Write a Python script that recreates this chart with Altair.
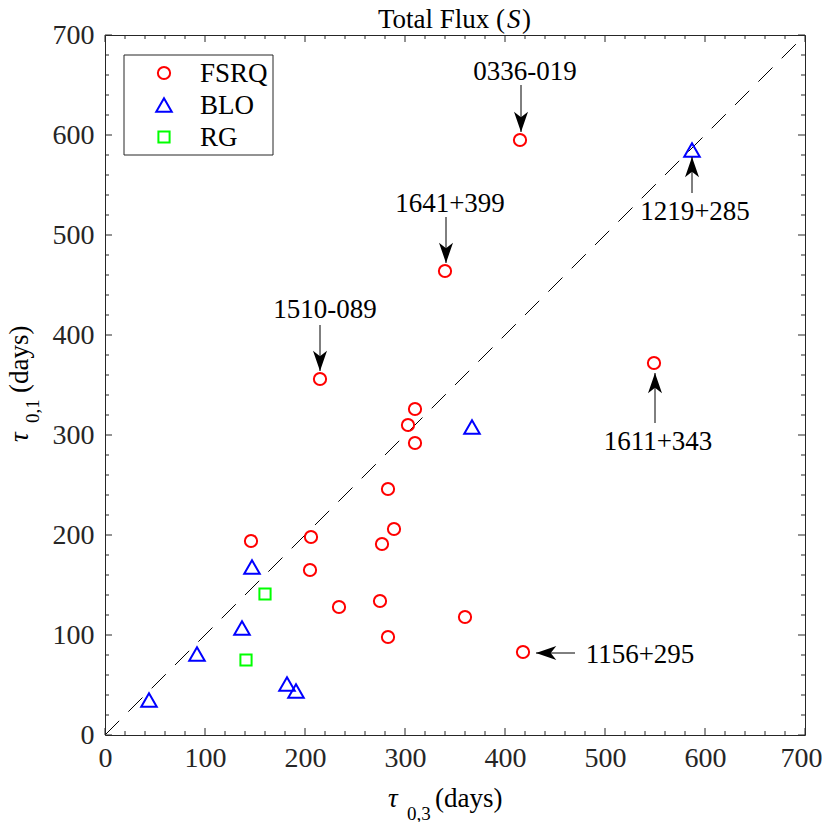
import altair as alt
import pandas as pd

FONT = "Liberation Serif"
INK = "#262626"

# ---- data ----
fsrq_x = [415, 340, 215, 549, 310, 303, 310, 283, 289, 277, 206, 146, 205, 234, 275, 283, 360, 418]
fsrq_y = [595, 464, 356, 372, 326, 310, 292, 246, 206, 191, 198, 194, 165, 128, 134, 98, 118, 83]
blo_x = [587, 367, 147, 137, 92, 44, 182, 191]
blo_y = [585, 308, 168, 107, 81, 35, 51, 44]
rg_x = [160, 141]
rg_y = [141, 75]

cats = ["FSRQ", "BLO", "RG"]
cat_colors = ["#ff0000", "#0000ff", "#00ff00"]
cat_shapes = ["circle", "triangle-up", "square"]
cat_sizes = [150, 240, 125]

diag_x = [0, 700]
diag_y = [0, 700]

ann_text = ["0336-019", "1641+399", "1510-089", "1219+285", "1611+343", "1156+295"]
ann_x = [420, 345, 220, 590, 553, 535]
ann_y = [655, 523, 417, 515, 285, 72]
arrow_x1 = [416, 341, 215, 587, 550, 470]
arrow_y1 = [650, 518, 410, 542, 312, 82]
arrow_x2 = [416, 341, 215, 587, 550, 431]
arrow_y2 = [603, 472, 364, 578, 362, 82]
arrow_angle = [180, 180, 180, 0, 0, 270]

major_ticks = list(range(0, 701, 100))
minor_ticks = [v for v in range(0, 701, 20) if v % 100]

# ---- tables ----
groups = {
    "FSRQ": pd.DataFrame({"x": fsrq_x, "y": fsrq_y}),
    "BLO": pd.DataFrame({"x": blo_x, "y": blo_y}),
    "RG": pd.DataFrame({"x": rg_x, "y": rg_y}),
}
diag = pd.DataFrame({"x": diag_x, "y": diag_y})
ann = pd.DataFrame({"t": ann_text, "x": ann_x, "y": ann_y})
arr = pd.DataFrame({"x": arrow_x1, "y": arrow_y1, "x2": arrow_x2, "y2": arrow_y2, "a": arrow_angle})
major = pd.DataFrame({"v": major_ticks})
minor = pd.DataFrame({"v": minor_ticks})

xscale = alt.Scale(domain=[0, 700], nice=False, zero=False)
yscale = alt.Scale(domain=[0, 700], nice=False, zero=False)
xaxis = alt.Axis(values=major_ticks, grid=False, domain=False, ticks=False, tickSize=0,
                 labelPadding=9, labelFontSize=28, labelFont=FONT, labelColor=INK,
                 labelFlush=False, labelOverlap=False, title=None,
                 labelOffset={"condition": {"test": "datum.value >= 700", "value": -4}, "value": 0})
yaxis = alt.Axis(values=major_ticks, grid=False, domain=False, ticks=False, tickSize=0,
                 labelPadding=11, labelFontSize=28, labelFont=FONT, labelColor=INK,
                 labelFlush=False, labelOverlap=False, title=None)


def X(f):
    return alt.X(f, type="quantitative", scale=xscale, axis=xaxis)


def Y(f):
    return alt.Y(f, type="quantitative", scale=yscale, axis=yaxis)


one = alt.Data(values=[{}])

diag_layer = alt.Chart(diag).mark_line(color="black", strokeWidth=1, strokeDash=[20, 13]).encode(
    x=X("x"), y=Y("y"))

pt_layers = []
for i, c in enumerate(cats):
    pt_layers.append(
        alt.Chart(groups[c]).mark_point(shape=cat_shapes[i], color=cat_colors[i], size=cat_sizes[i],
                                        filled=False, strokeWidth=2, opacity=1).encode(
            x=X("x"), y=Y("y")))

arrow_lines = alt.Chart(arr).mark_rule(color="black", strokeWidth=1).encode(
    x=X("x"), y=Y("y"), x2="x2", y2="y2")
arrow_heads = alt.Chart(arr).mark_point(
    shape="M0,0L-1,2.9L0,2.1L1,2.9Z", filled=True, color="black", size=196, opacity=1
).encode(x=X("x2"), y=Y("y2"), angle=alt.Angle("a:Q", scale=None))

ann_layer = alt.Chart(ann).mark_text(font=FONT, fontSize=27, color="black", align="center",
                                      baseline="alphabetic").encode(
    x=X("x"), y=Y("y"), text="t:N")

tick_layers = []
for df, L in ((major, 7), (minor, 4)):
    tick_layers += [
        alt.Chart(df).mark_rule(color=INK, strokeWidth=1).encode(x=X("v"), y=alt.value(700), y2=alt.value(700 - L)),
        alt.Chart(df).mark_rule(color=INK, strokeWidth=1).encode(x=X("v"), y=alt.value(0), y2=alt.value(L)),
        alt.Chart(df).mark_rule(color=INK, strokeWidth=1).encode(y=Y("v"), x=alt.value(0), x2=alt.value(L)),
        alt.Chart(df).mark_rule(color=INK, strokeWidth=1).encode(y=Y("v"), x=alt.value(700), x2=alt.value(700 - L)),
    ]

# legend (manual)
legend_layers = [
    alt.Chart(one).mark_rect(fill="white", stroke=INK, strokeWidth=1).encode(
        x=alt.value(19), x2=alt.value(168), y=alt.value(20), y2=alt.value(120))
]
for i, c in enumerate(cats):
    legend_layers.append(
        alt.Chart(one).mark_point(shape=cat_shapes[i], color=cat_colors[i], size=cat_sizes[i],
                                  filled=False, strokeWidth=2, opacity=1).encode(
            x=alt.value(59), y=alt.value(38 + 32 * i)))
    legend_layers.append(
        alt.Chart(one).mark_text(text=c, font=FONT, fontSize=27, color="black", align="left",
                                 baseline="middle").encode(
            x=alt.value(95), y=alt.value(39 + 32 * i)))


def txt(s, x, y, size=27, italic=False, angle=0):
    kw = dict(text=s, font=FONT, fontSize=size, color="black", align="left", baseline="alphabetic")
    if italic:
        kw["fontStyle"] = "italic"
    if angle:
        kw["angle"] = angle
    return alt.Chart(one).mark_text(**kw).encode(x=alt.value(x), y=alt.value(y))


title_layers = [
    txt("Total Flux (", 273, -7),
    txt("S", 402, -7, italic=True),
    txt(")", 417, -7),
    # x title
    txt("τ", 283, 772, italic=True),
    txt("0,3", 302, 785, size=19),
    txt("(days)", 330, 772),
    # y title
    txt("τ", -77, 407, italic=True, angle=270),
    txt("0,1", -66, 388, size=19, angle=270),
    txt("(days)", -77, 358, angle=270),
]

chart = alt.layer(
    diag_layer, *tick_layers, *legend_layers, *pt_layers, arrow_lines, arrow_heads, ann_layer, *title_layers
).properties(
    width=700, height=700,
    autosize=alt.AutoSizeParams(type="none"),
    padding={"left": 97, "top": 27, "right": 17, "bottom": 87},
).configure_view(stroke=INK, strokeWidth=1)

chart.save("out.html", embed_options={"renderer": "svg", "actions": False})
